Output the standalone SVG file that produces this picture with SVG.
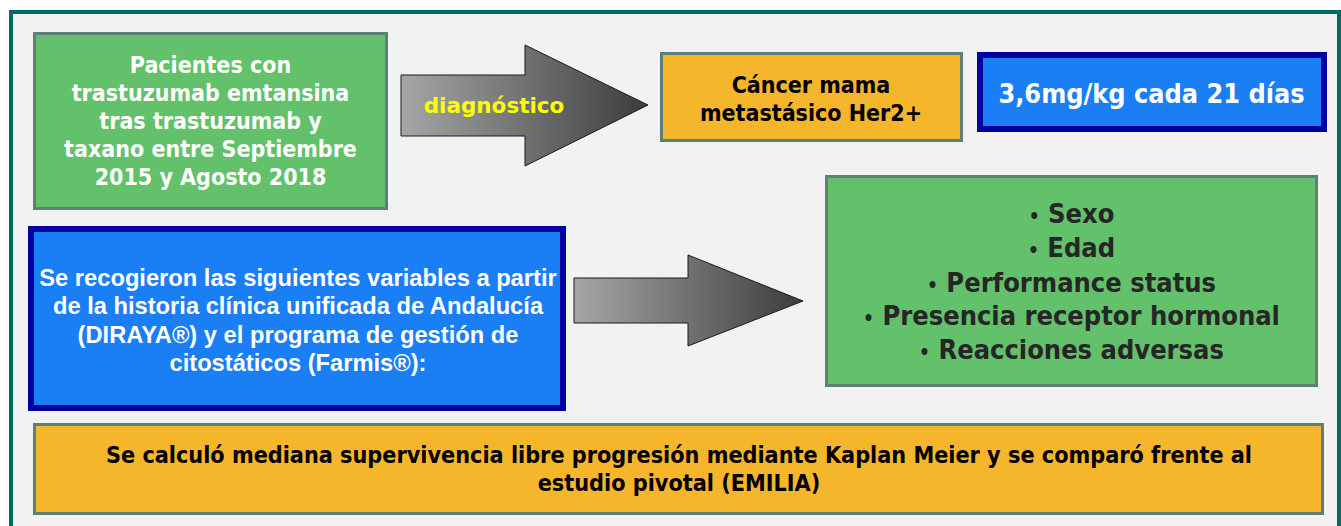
<svg xmlns="http://www.w3.org/2000/svg" width="1341" height="526" viewBox="0 0 1341 526">
<style>
.t{font-family:"DejaVu Sans Condensed","DejaVu Sans",sans-serif;font-stretch:condensed;font-weight:bold;text-anchor:middle}
.a{font-family:"Liberation Sans",Arial,sans-serif;font-weight:bold;text-anchor:middle}
.v{font-family:"DejaVu Sans",Verdana,sans-serif;font-weight:bold;text-anchor:middle}
.g{fill:#62C16A;stroke:#5E8079;stroke-width:3}
.o{fill:#F5B62B;stroke:#5E8079;stroke-width:3}
.b{fill:#1A7EF5;stroke:#0000A0;stroke-width:6}
.arr{fill:url(#ag);stroke:#1a1a1a;stroke-width:1}
.dot{font-size:19px}
</style>
<defs>
<linearGradient id="ag" x1="0" y1="0" x2="1" y2="0">
<stop offset="0" stop-color="#A6A6A6"/>
<stop offset="1" stop-color="#3C3C3C"/>
</linearGradient>
</defs>
<rect x="0" y="0" width="1341" height="526" fill="#FFFFFF"/>
<rect x="11" y="12" width="1328" height="530" fill="#F2F2F2" stroke="#006B66" stroke-width="4"/>
<g id="connectors">
<polygon class="arr" points="401,75 525,75 525,45 648,105 525,166 525,136 401,136"/>
<polygon class="arr" points="574,278 688,278 688,255 803,301 688,346 688,323 574,323"/>
<text class="v" x="494" y="113" font-size="21.5" fill="#FFFF00">diagnóstico</text>
</g>
<g id="pacientes">
<rect class="g" x="34.5" y="33.5" width="352" height="175"/>
<g class="t" font-size="23" fill="#FFFFFF">
<text x="210.5" y="73.3">Pacientes con</text>
<text x="210.5" y="101.2">trastuzumab emtansina</text>
<text x="210.5" y="129.1">tras trastuzumab y</text>
<text x="210.5" y="157">taxano entre Septiembre</text>
<text x="210.5" y="185">2015 y Agosto 2018</text>
</g>
</g>
<g id="cancer">
<rect class="o" x="661.5" y="53.5" width="300" height="87"/>
<g class="t" font-size="23" fill="#000000">
<text x="811" y="92.7">Cáncer mama</text>
<text x="811" y="120.5">metastásico Her2+</text>
</g>
</g>
<g id="dosis">
<rect class="b" x="980" y="55" width="344" height="74"/>
<text class="t" x="1151.5" y="103" font-size="26.8" fill="#FFFFFF">3,6mg/kg cada 21 días</text>
</g>
<g id="variables-fuente">
<rect class="b" x="31" y="229" width="532" height="179"/>
<g class="a" font-size="23.7" fill="#FFFFFF">
<text x="298" y="285.5">Se recogieron las siguientes variables a partir</text>
<text x="298" y="314">de la historia clínica unificada de Andalucía</text>
<text x="298" y="342.5">(DIRAYA®) y el programa de gestión de</text>
<text x="298" y="371">citostáticos (Farmis®):</text>
</g>
</g>
<g id="variables">
<rect class="g" x="826.5" y="176.5" width="490" height="209"/>
<g class="t" font-size="27" fill="#262626">
<text x="1071.5" y="223.3"><tspan class="dot">•</tspan> Sexo</text>
<text x="1071.5" y="257.4"><tspan class="dot">•</tspan> Edad</text>
<text x="1071.5" y="291.5"><tspan class="dot">•</tspan> Performance status</text>
<text x="1071.5" y="325.3"><tspan class="dot">•</tspan> Presencia receptor hormonal</text>
<text x="1071.5" y="358.5"><tspan class="dot">•</tspan> Reacciones adversas</text>
</g>
</g>
<g id="resultado">
<rect class="o" x="34.5" y="424.5" width="1288" height="89"/>
<g class="t" font-size="23.2" fill="#000000">
<text x="679" y="463" textLength="1146" lengthAdjust="spacingAndGlyphs">Se calculó mediana supervivencia libre progresión mediante Kaplan Meier y se comparó frente al</text>
<text x="679" y="491">estudio pivotal (EMILIA)</text>
</g>
</g>
</svg>
